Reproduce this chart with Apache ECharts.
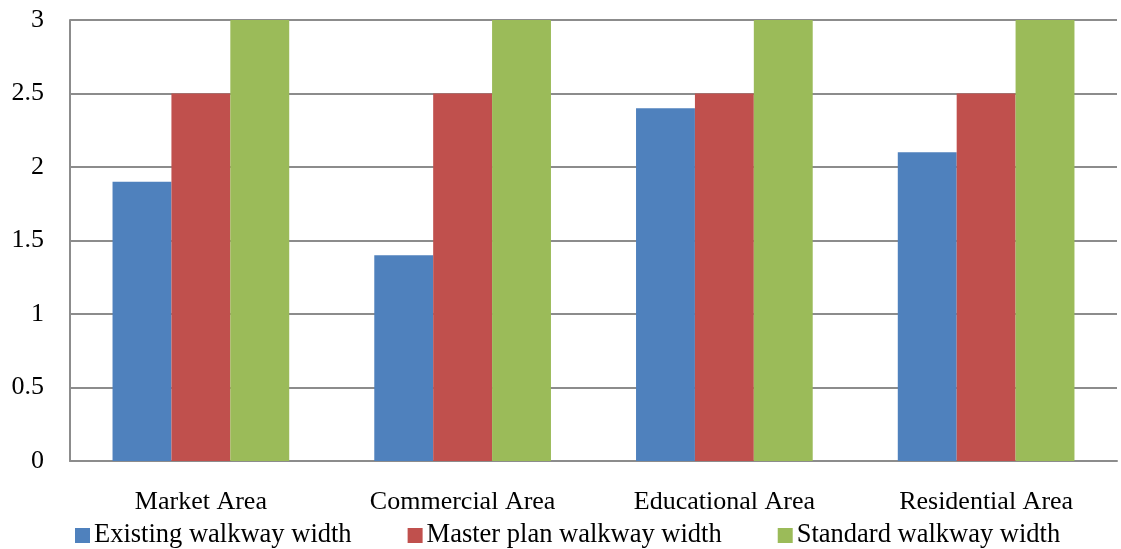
<!DOCTYPE html>
<html>
<head>
<meta charset="utf-8">
<script src="https://cdn.jsdelivr.net/npm/echarts@6/dist/echarts.min.js"></script>
<style>
  html, body { margin: 0; padding: 0; background: #fff; }
  #chart { width: 1121px; height: 549px; }
</style>
</head>
<body>
<div id="chart"></div>
<script>
const categories = ["Market Area", "Commercial Area", "Educational Area", "Residential Area"];
const existingWidth = [1.9, 1.4, 2.4, 2.1];
const masterPlanWidth = [2.5, 2.5, 2.5, 2.5];
const standardWidth = [3, 3, 3, 3];
const yTicks = [0, 0.5, 1, 1.5, 2, 2.5, 3];

const font = "'Liberation Serif', 'Times New Roman', serif";
const chart = echarts.init(document.getElementById("chart"));

chart.setOption({
  animation: false,
  textStyle: { fontFamily: font },
  grid: { left: 70, right: 4, top: 20, bottom: 88 },
  legend: {
    left: 75,
    top: 522,
    padding: 0,
    itemWidth: 15,
    itemHeight: 15,
    itemGap: 56,
    icon: "rect",
    textStyle: { fontFamily: font, fontSize: 26.5, color: "#000", padding: [0, 0, 0, -1] },
    data: ["Existing walkway width", "Master plan walkway width", "Standard walkway width"]
  },
  xAxis: {
    type: "category",
    data: categories,
    axisLine: { lineStyle: { color: "#8c8c8c", width: 2 } },
    axisTick: { show: false },
    axisLabel: { fontFamily: font, fontSize: 26, color: "#000", margin: 28 }
  },
  yAxis: {
    type: "value",
    min: yTicks[0],
    max: yTicks[yTicks.length - 1],
    interval: 0.5,
    axisLine: { show: true, lineStyle: { color: "#8c8c8c", width: 2 } },
    axisTick: { show: false },
    splitLine: { lineStyle: { color: "#8c8c8c", width: 2 } },
    axisLabel: { fontFamily: font, fontSize: 26, color: "#000", margin: 26 }
  },
  series: [
    { name: "Existing walkway width", type: "bar", data: existingWidth, barGap: "0%", barCategoryGap: "32.5%", itemStyle: { color: "#4F81BD" } },
    { name: "Master plan walkway width", type: "bar", data: masterPlanWidth, barGap: "0%", barCategoryGap: "32.5%", itemStyle: { color: "#C0504D" } },
    { name: "Standard walkway width", type: "bar", data: standardWidth, barGap: "0%", barCategoryGap: "32.5%", itemStyle: { color: "#9BBB59" } }
  ]
});
</script>
</body>
</html>
